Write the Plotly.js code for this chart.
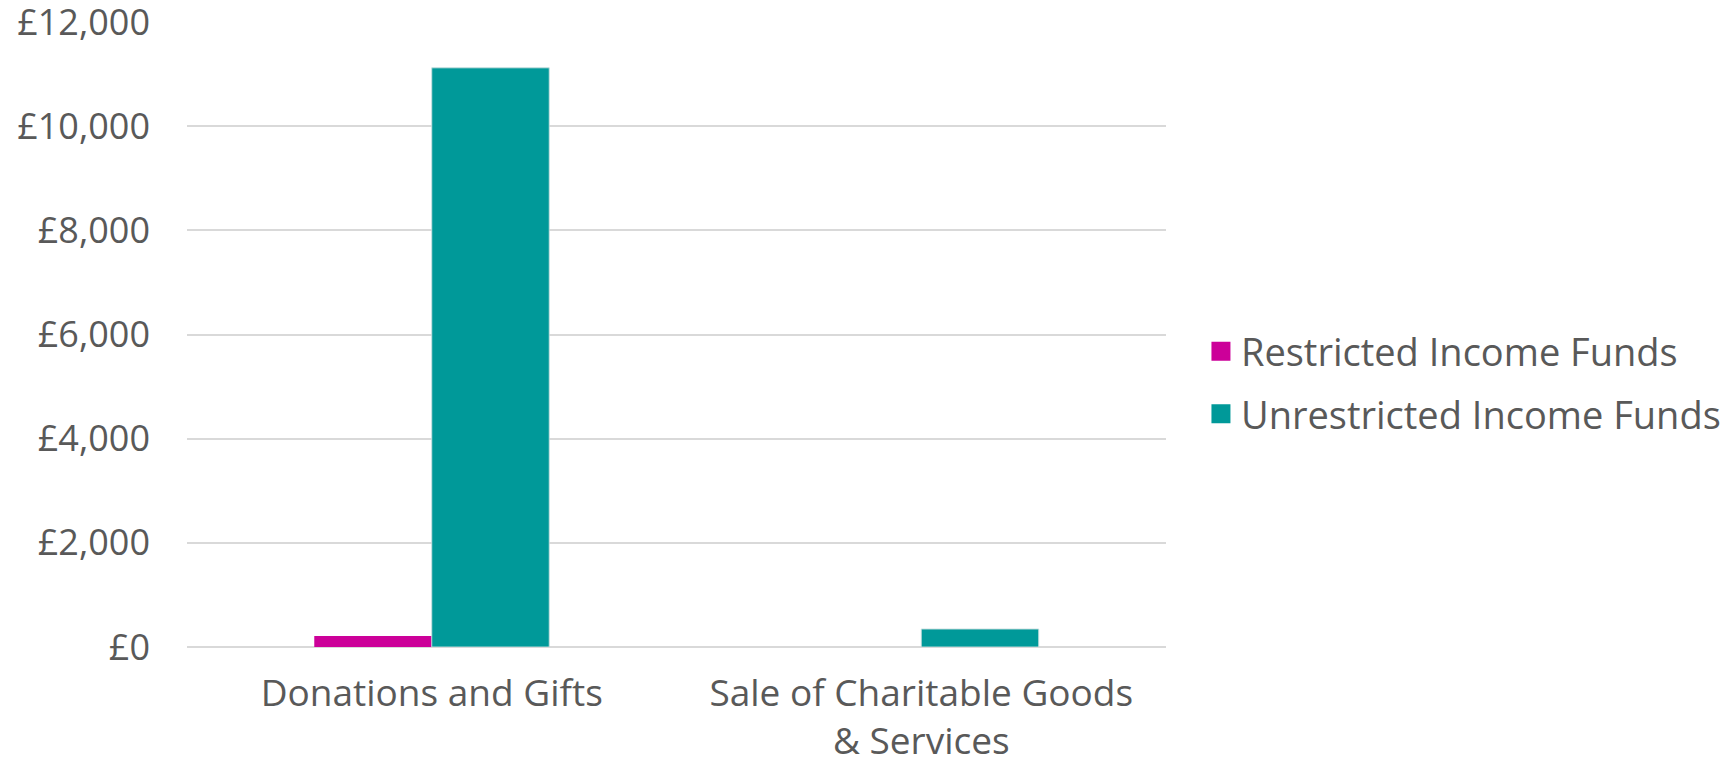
<!DOCTYPE html>
<html>
<head>
<meta charset="utf-8">
<script src="https://cdn.plot.ly/plotly-3.0.1.min.js"></script>
<style>
  html, body { margin: 0; padding: 0; background: #ffffff; }
  #chart { width: 1724px; height: 762px; }
</style>
</head>
<body>
<div id="chart"></div>
<script>
const categories = ["Donations and Gifts", "Sale of Charitable Goods<br>& Services"];
const restrictedValues = [210, 0];
const unrestrictedValues = [11120, 345];
const seriesNames = ["Restricted Income Funds", "Unrestricted Income Funds"];
const seriesColors = ["#CC0099", "#009999"];
const yTickValues = [0, 2000, 4000, 6000, 8000, 10000, 12000];
const yTickLabels = ["£0", "£2,000", "£4,000", "£6,000", "£8,000", "£10,000", "£12,000"];

const fontFamily = "'Open Sans', Lato, sans-serif";
const textColor = "#595959";

const traces = [
  {
    type: "bar", x: categories, y: restrictedValues, name: seriesNames[0],
    marker: { color: seriesColors[0] }, showlegend: false, hoverinfo: "x+y"
  },
  {
    type: "bar", x: categories, y: unrestrictedValues, name: seriesNames[1],
    marker: { color: seriesColors[1], line: { color: "rgba(200,222,222,0.9)", width: 1 } },
    showlegend: false, hoverinfo: "x+y"
  },
  {
    type: "scatter", mode: "markers", x: [null], y: [null], name: seriesNames[0],
    legendgroup: "a",
    marker: { symbol: "square", size: 16, color: seriesColors[0], line: { color: seriesColors[0], width: 3 } }
  },
  {
    type: "scatter", mode: "markers", x: [null], y: [null], name: seriesNames[1],
    legendgroup: "b",
    marker: { symbol: "square", size: 16, color: seriesColors[1], line: { color: seriesColors[1], width: 3 } }
  }
];

const layout = {
  width: 1724,
  height: 762,
  paper_bgcolor: "#ffffff",
  plot_bgcolor: "#ffffff",
  margin: { l: 187, r: 558, t: 22, b: 115, pad: 0, autoexpand: false },
  font: { family: fontFamily, size: 37, color: textColor },
  barmode: "group",
  bargap: 0.52,
  bargroupgap: 0,
  showlegend: true,
  legend: {
    x: 1.0357, xanchor: "left",
    y: 0.423, yanchor: "middle",
    traceorder: "grouped",
    tracegroupgap: 10,
    itemsizing: "trace",
    font: { family: fontFamily, size: 38, color: textColor },
    bgcolor: "rgba(0,0,0,0)"
  },
  xaxis: {
    type: "category",
    showgrid: false,
    showline: false,
    zeroline: false,
    ticks: "",
    ticklabelstandoff: 21,
    ticklabeloverflow: "allow",
    tickfont: { family: fontFamily, size: 37, color: textColor }
  },
  yaxis: {
    range: [0, 12000],
    tickmode: "array",
    tickvals: yTickValues,
    ticktext: yTickLabels,
    showgrid: true,
    gridcolor: "#d9d9d9",
    gridwidth: 2,
    zeroline: true,
    zerolinecolor: "#d9d9d9",
    zerolinewidth: 2,
    showline: false,
    ticks: "",
    ticklabelstandoff: 36,
    ticklabeloverflow: "allow",
    tickfont: { family: fontFamily, size: 36, color: textColor }
  }
};

Plotly.newPlot("chart", traces, layout, { displayModeBar: false, staticPlot: true });
</script>
</body>
</html>
